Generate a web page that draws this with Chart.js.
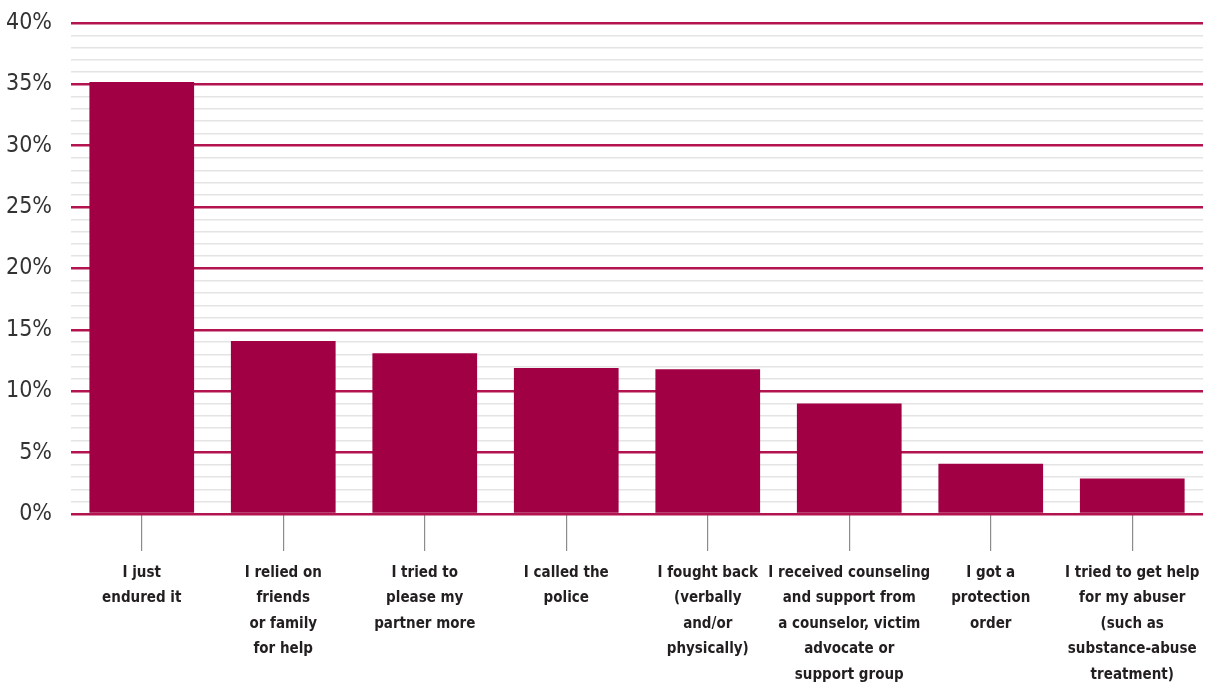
<!DOCTYPE html>
<html>
<head>
<meta charset="utf-8">
<script src="https://cdn.jsdelivr.net/npm/chart.js@4/dist/chart.umd.min.js"></script>
<style>
  html, body { margin: 0; padding: 0; background: #ffffff; }
  #wrap { width: 1207px; height: 683px; position: relative; }
</style>
</head>
<body>
<div id="wrap"><canvas id="responseChart"></canvas></div>
<script>
// Responses (multi-line category labels)
const responses = [
    ['I just', 'endured it'],
    ['I relied on', 'friends', 'or family', 'for help'],
    ['I tried to', 'please my', 'partner more'],
    ['I called the', 'police'],
    ['I fought back', '(verbally', 'and/or', 'physically)'],
    ['I received counseling', 'and support from', 'a counselor, victim', 'advocate or', 'support group'],
    ['I got a', 'protection', 'order'],
    ['I tried to get help', 'for my abuser', '(such as', 'substance-abuse', 'treatment)']
]

// Share of respondents, percent
const shares = [35.2, 14.1, 13.1, 11.9, 11.8, 9.0, 4.1, 2.9]

const yMin = 0
const yMax = 40
const majorStep = 5

const barColour = '#a10044'
const majorLine = '#b3134f'
const minorLine = '#e4e4e4'

const data = {
    labels: responses,
    datasets: [{
        data: shares,
        backgroundColor: barColour,
        borderWidth: 0,
        barPercentage: 0.74,
        categoryPercentage: 1.0
    }]
}

const config = {
    type: 'bar',
    data,
    options: {
        responsive: true,
        maintainAspectRatio: false,
        animation: false,
        layout: {
            padding: { top: 23, right: 4, left: 0, bottom: 0 }
        },
        plugins: {
            legend: { display: false },
            tooltip: { enabled: false }
        },
        scales: {
            x: {
                border: { display: false },
                grid: {
                    offset: false,
                    drawOnChartArea: false,
                    drawTicks: true,
                    tickLength: 37,
                    tickColor: '#8c8c8c',
                    lineWidth: 1.2
                },
                ticks: {
                    autoSkip: false,
                    maxRotation: 0,
                    minRotation: 0,
                    padding: 9,
                    color: '#231f20',
                    font: { family: '"DejaVu Sans Condensed", sans-serif', size: 15, weight: 'bold', lineHeight: 1.7 }
                },
                afterFit: function(scale) {
                    scale.height = 169
                    scale.paddingLeft = 0
                    scale.paddingRight = 0
                }
            },
            y: {
                min: yMin,
                max: yMax,
                border: { display: false },
                grid: {
                    drawTicks: false,
                    color: ctx => (ctx.tick && ctx.tick.value % majorStep === 0) ? majorLine : minorLine,
                    lineWidth: ctx => (ctx.tick && ctx.tick.value % majorStep === 0) ? 2.6 : 1.5
                },
                ticks: {
                    stepSize: 1,
                    autoSkip: false,
                    padding: 19,
                    color: '#333333',
                    font: { family: '"DejaVu Sans Condensed", sans-serif', size: 23 },
                    callback: value => value % majorStep === 0 ? value + '%' : ''
                },
                afterFit: function(scale) {
                    scale.width = 71
                    scale.paddingTop = 0
                    scale.paddingBottom = 0
                }
            }
        }
    }
}

// Render Chart
const responseChart = new Chart(
    document.getElementById('responseChart'),
    config
)
</script>
</body>
</html>
